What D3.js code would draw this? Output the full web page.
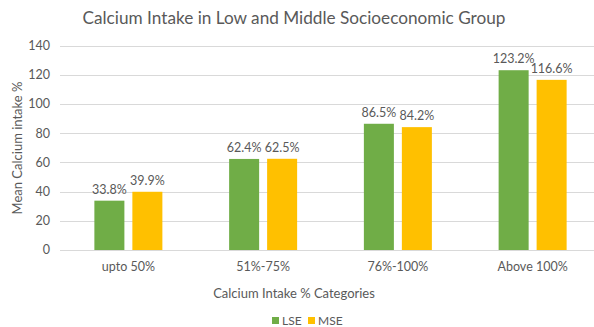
<!DOCTYPE html>
<html><head><meta charset="utf-8">
<script src="https://cdn.jsdelivr.net/npm/d3@7"></script>
<style>body{margin:0;background:#fff}svg{display:block}text{font-family:Lato,"Open Sans",sans-serif;fill:#595959}</style>
</head><body>
<script>
const categories = ["upto 50%", "51%-75%", "76%-100%", "Above 100%"];
const seriesNames = ["LSE", "MSE"];
const lseValues = [33.8, 62.4, 86.5, 123.2];
const mseValues = [39.9, 62.5, 84.2, 116.6];
const yTicks = [0, 20, 40, 60, 80, 100, 120, 140];
const colors = ["#70AD47", "#FFC000"];

const W = 594, H = 327;
const svg = d3.select("body").append("svg").attr("width", W).attr("height", H);
const m = {left: 61, right: -6, top: 45.7, bottom: 77};
const x = d3.scaleBand().domain(categories).range([m.left, W - m.right]);
const xs = d3.scaleBand().domain(seriesNames).range([0, 68]).paddingInner(0.21);
const y = d3.scaleLinear().domain([0, 140]).range([H - m.bottom, m.top]);

// gridlines
svg.append("g").selectAll("line").data(yTicks).join("line")
  .attr("x1", m.left - 1).attr("x2", W).attr("y1", d => Math.round(y(d)) + 0.5).attr("y2", d => Math.round(y(d)) + 0.5)
  .attr("stroke", "#D9D9D9").attr("stroke-width", 1);

// y tick labels
svg.append("g").selectAll("text").data(yTicks).join("text")
  .attr("x", 50).attr("y", d => y(d)).attr("dy", "0.35em").attr("text-anchor", "end")
  .style("font-size", "12.5px").text(d => d);

const data = categories.map((c, i) => ({c, vals: [lseValues[i], mseValues[i]]}));
const g = svg.append("g").selectAll("g").data(data).join("g")
  .attr("transform", d => `translate(${x(d.c) + x.bandwidth()/2 - 34},0)`);
g.selectAll("rect").data(d => d.vals.map((v, j) => ({v, s: seriesNames[j], j}))).join("rect")
  .attr("x", d => xs(d.s)).attr("width", xs.bandwidth())
  .attr("y", d => y(d.v)).attr("height", d => y(0) - y(d.v))
  .attr("fill", d => colors[d.j]);
g.selectAll("text").data(d => d.vals.map((v, j) => ({v, s: seriesNames[j]}))).join("text")
  .attr("x", d => xs(d.s) + xs.bandwidth()/2).attr("y", d => y(d.v) - 7)
  .attr("text-anchor", "middle").style("font-size", "12.5px").text(d => d.v.toFixed(1) + "%");

// category labels
svg.append("g").selectAll("text").data(categories).join("text")
  .attr("x", d => x(d) + x.bandwidth()/2).attr("y", 271).attr("text-anchor", "middle")
  .style("font-size", "12.5px").text(d => d);

// titles
svg.append("text").attr("x", 294).attr("y", 24).attr("text-anchor", "middle")
  .style("font-size", "17.2px").text("Calcium Intake in Low and Middle Socioeconomic Group");
svg.append("text").attr("x", 294).attr("y", 298).attr("text-anchor", "middle")
  .style("font-size", "13px").text("Calcium Intake % Categories");
svg.append("text").attr("transform", "translate(22,148) rotate(-90)").attr("text-anchor", "middle")
  .style("font-size", "13px").text("Mean Calcium intake %");

// legend
const leg = svg.append("g").selectAll("g").data(seriesNames).join("g")
  .attr("transform", (d, i) => `translate(${272 + i * 36},317)`);
leg.append("rect").attr("width", 7).attr("height", 7).attr("fill", (d, i) => colors[i]);
leg.append("text").attr("x", 10).attr("y", 8).style("font-size", "12px").text(d => d);
</script>
</body></html>
